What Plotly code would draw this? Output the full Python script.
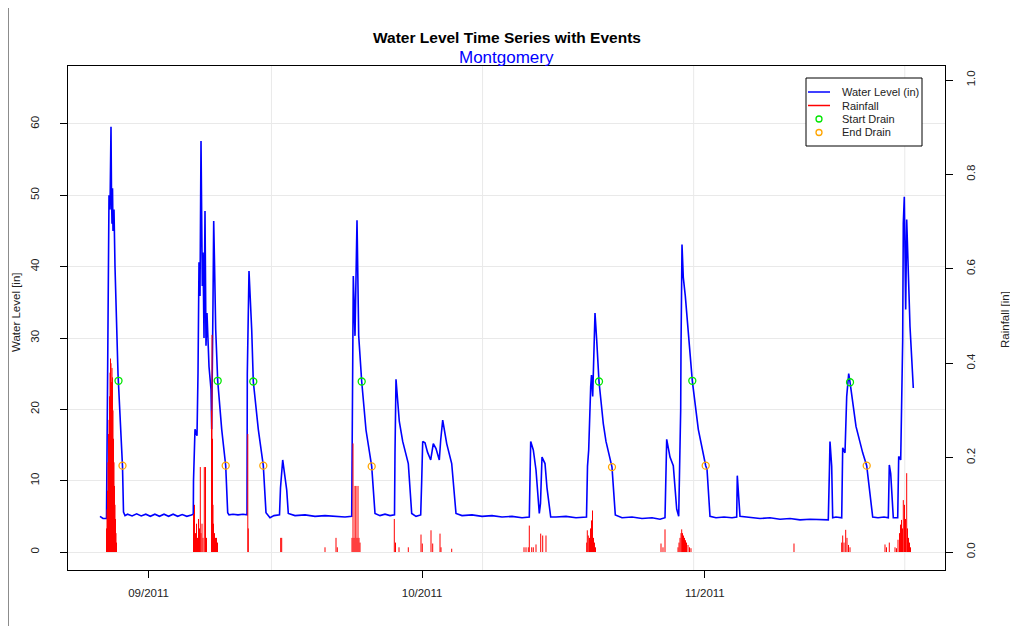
import pandas as pd
import plotly.graph_objects as go

# ---------------- data ----------------
BASE = "2011-09-01"  # day offsets below are days after this date

level_day = [
    -5.318, -4.989, -4.605, -4.550, -4.441, -4.331, -4.221, -4.112, -4.057, -4.002,
    -3.947, -3.893, -3.783, -3.673, -3.344, -3.070, -2.851, -2.741, -2.577, -2.3,
    -1.8, -1.3, -0.8, -0.3, 0.2, 0.7, 1.2, 1.7, 2.2, 2.7,
    3.2, 3.7, 4.2, 4.7, 4.912, 4.934, 5.099, 5.318, 5.428, 5.537,
    5.647, 5.757, 5.899, 5.976, 6.086, 6.195, 6.305, 6.414, 6.634, 6.853,
    6.930, 7.072, 7.149, 7.237, 7.368, 7.588, 8.026, 8.465, 8.684, 8.827,
    9.265, 9.814, 10.362, 10.800, 10.833, 11.020, 11.316, 11.491, 12.039, 12.588,
    12.884, 13.322, 13.761, 14.364, 14.474, 14.715, 15.154, 15.329, 16.064, 17.160,
    18.257, 19.353, 20.450, 21.546, 22.281, 22.347, 22.456, 22.643, 22.752, 22.862,
    22.895, 23.048, 23.377, 23.849, 24.474, 24.835, 25.384, 25.932, 26.480, 26.974,
    27.028, 27.138, 27.500, 27.873, 28.487, 28.860, 29.331, 29.847, 29.956, 30.066,
    30.318, 30.592, 30.943, 31.228, 31.524, 31.886, 32.039, 32.259, 32.697, 33.246,
    33.717, 34.375, 35.471, 36.568, 37.664, 38.761, 39.857, 40.954, 41.754, 41.908,
    42.193, 42.489, 42.851, 42.982, 43.147, 43.476, 43.695, 44.101, 44.682, 45.778,
    46.875, 48.026, 48.136, 48.267, 48.487, 48.575, 48.706, 48.958, 49.145, 49.397,
    49.868, 50.164, 50.822, 51.184, 51.919, 53.015, 54.112, 55.208, 56.085, 56.634,
    56.820, 57.182, 57.544, 57.917, 58.136, 58.279, 58.356, 58.388, 58.498, 58.640,
    58.860, 59.627, 60.285, 61.096, 61.239, 61.568, 62.226, 63.103, 63.980, 64.496,
    64.561, 64.857, 65.954, 67.050, 68.147, 69.243, 70.340, 71.436, 72.533, 73.629,
    74.539, 74.671, 74.725, 74.912, 75.022, 75.384, 76.009, 76.119, 76.371, 76.557,
    76.777, 76.920, 77.577, 78.312, 78.750, 79.408, 79.989, 80.647, 81.119, 81.228,
    81.382, 81.667, 82.150, 82.259, 82.479, 82.698, 82.764, 82.873, 83.027, 83.136,
    83.278, 83.498, 83.860,
]
level_in = [
    5.0, 4.7, 4.7, 13.0, 40.0, 50.0, 48.0, 59.6, 50.0, 46.0,
    51.0, 45.0, 48.0, 40.0, 25.0, 17.0, 12.0, 5.6, 5.1, 5.3,
    5.05, 5.35, 5.05, 5.3, 5.0, 5.3, 5.0, 5.3, 5.0, 5.3,
    5.0, 5.25, 5.0, 5.2, 5.3, 10.0, 17.2, 16.3, 25.0, 40.6,
    35.9, 57.6, 37.3, 42.0, 30.0, 47.8, 28.9, 33.5, 26.0, 22.8,
    17.2, 35.0, 46.4, 40.6, 31.2, 24.0, 17.2, 12.1, 5.5, 5.2,
    5.3, 5.2, 5.3, 5.2, 25.0, 39.4, 31.2, 23.9, 17.2, 12.1,
    5.5, 4.8, 5.1, 5.2, 9.0, 12.9, 8.7, 5.4, 5.1, 5.2,
    5.0, 5.1, 5.0, 4.9, 5.0, 15.0, 38.7, 30.3, 39.9, 46.5,
    43.9, 30.3, 23.9, 17.1, 12.0, 5.4, 5.1, 5.3, 5.1, 5.2,
    14.0, 24.2, 18.3, 15.5, 12.4, 5.4, 5.0, 5.2, 10.0, 15.5,
    15.3, 14.0, 12.9, 15.2, 14.5, 12.9, 15.7, 18.5, 15.2, 12.4,
    5.4, 5.1, 5.2, 5.0, 5.1, 4.9, 5.0, 4.8, 4.9, 15.5,
    14.3, 11.5, 5.4, 6.8, 13.3, 12.4, 9.0, 4.9, 4.9, 5.0,
    4.8, 4.9, 12.0, 14.3, 23.2, 24.8, 21.8, 33.5, 29.7, 23.9,
    18.0, 15.5, 11.9, 5.2, 4.8, 4.9, 4.7, 4.8, 4.6, 4.8,
    15.8, 13.3, 12.1, 6.0, 5.0, 14.9, 20.0, 28.4, 43.1, 38.5,
    35.9, 24.0, 17.2, 12.1, 11.6, 5.0, 4.8, 4.9, 4.8, 4.9,
    10.7, 5.0, 4.8, 4.7, 4.8, 4.6, 4.7, 4.5, 4.6, 4.5,
    4.5, 12.0, 15.5, 12.0, 4.8, 4.9, 4.8, 14.6, 13.9, 21.8,
    25.0, 23.8, 17.6, 13.9, 12.1, 4.9, 4.8, 4.9, 4.8, 12.2,
    11.0, 4.8, 4.8, 13.4, 12.9, 29.8, 46.1, 49.8, 34.0, 46.6,
    40.5, 31.6, 23.0,
]

rain_day = [
    -4.605, -4.550, -4.496, -4.441, -4.386, -4.331, -4.276, -4.221, -4.167, -4.112,
    -4.057, -4.002, -3.947, -3.893, -3.838, -3.783, -3.728, -3.673, -3.618, -3.564,
    -3.509,
    4.934, 5.044, 5.153, 5.263, 5.373, 5.482, 5.592, 5.680, 5.757, 5.866,
    5.976, 6.118, 6.250, 6.360, 6.908, 6.963, 7.018, 7.072, 7.127, 7.237,
    7.346, 7.456, 7.566,
    10.888, 10.943, 14.496, 14.605, 19.353, 20.559, 20.702,
    22.314, 22.423, 22.533, 22.643, 22.752, 22.862, 22.971, 23.081, 23.191,
    26.952, 27.083, 27.467, 28.487, 29.879, 30.022, 30.976, 31.162, 31.963, 32.072,
    33.246,
    41.173, 41.393, 41.645, 41.754, 42.017, 42.193, 42.489, 43.004, 43.224, 43.585,
    48.048, 48.114, 48.224, 48.355, 48.465, 48.575, 48.684, 48.794, 48.903, 49.013,
    56.195, 56.414, 56.634, 58.059, 58.169, 58.279, 58.388, 58.465, 58.553, 58.662,
    58.772, 58.882, 58.991, 59.155, 59.320, 59.484,
    70.778, 76.009, 76.119, 76.261, 76.447, 76.589, 76.754, 76.920,
    80.756, 80.921, 81.228, 81.853, 82.018, 82.182, 82.346, 82.456, 82.566, 82.676,
    82.764, 82.895, 83.005, 83.136, 83.224, 83.334, 83.443, 83.553,
]
rain_in = [
    0.05, 0.09, 0.13, 0.19, 0.25, 0.28, 0.33, 0.38, 0.41, 0.40,
    0.36, 0.39, 0.37, 0.30, 0.24, 0.19, 0.14, 0.10, 0.07, 0.04,
    0.02,
    0.08, 0.10, 0.04, 0.06, 0.03, 0.07, 0.05, 0.18, 0.04, 0.06,
    0.03, 0.18, 0.18, 0.03, 0.30, 0.46, 0.24, 0.10, 0.06, 0.04,
    0.03, 0.03, 0.02,
    0.25, 0.05, 0.03, 0.03, 0.01, 0.03, 0.01,
    0.03, 0.23, 0.03, 0.14, 0.14, 0.03, 0.14, 0.03, 0.02,
    0.07, 0.02, 0.01, 0.01, 0.037, 0.018, 0.046, 0.018, 0.039, 0.01,
    0.007,
    0.01, 0.01, 0.01, 0.056, 0.01, 0.01, 0.016, 0.039, 0.035, 0.035,
    0.02, 0.046, 0.035, 0.03, 0.05, 0.067, 0.088, 0.03, 0.02, 0.01,
    0.018, 0.01, 0.048, 0.01, 0.02, 0.03, 0.04, 0.048, 0.04, 0.035,
    0.03, 0.025, 0.02, 0.015, 0.01, 0.008,
    0.018, 0.02, 0.035, 0.02, 0.047, 0.03, 0.015, 0.01,
    0.016, 0.01, 0.02, 0.01, 0.008, 0.026, 0.04, 0.058, 0.068, 0.05,
    0.11, 0.10, 0.07, 0.167, 0.05, 0.03, 0.02, 0.01,
]

start_day = [-3.289, 7.588, 11.491, 23.377, 49.397, 59.627, 76.920]
start_level = [24.0, 24.0, 23.9, 23.9, 23.9, 24.0, 23.8]
end_day = [-2.851, 8.465, 12.588, 24.474, 50.822, 61.096, 78.750]
end_level = [12.1, 12.1, 12.1, 12.0, 11.9, 12.1, 12.1]

x_tick_days = [0, 30, 61]
x_tick_labels = ["09/2011", "10/2011", "11/2011"]
left_ticks = [0, 10, 20, 30, 40, 50, 60]
right_ticks = [0.0, 0.2, 0.4, 0.6, 0.8, 1.0]
right_tick_labels = ["0.0", "0.2", "0.4", "0.6", "0.8", "1.0"]
vgrid_times = ["2011-09-14 11:33:20", "2011-10-07 15:06:40",
               "2011-10-30 18:40:00", "2011-11-22 22:13:20"]

title_text = "Water Level Time Series with Events"
subtitle_text = "Montgomery"
legend_labels = ["Water Level (in)", "Rainfall", "Start Drain", "End Drain"]

# ---------------- helpers ----------------
base = pd.Timestamp(BASE)


def to_time(days):
    return [base + pd.Timedelta(days=d) for d in days]


# the page body has an 8px margin, so the figure is 8px smaller than the window
W, H = 1010, 618
ML, MR, MT, MB = 60, 73, 58, 56
PW, PH = W - ML - MR, H - MT - MB
# screen coordinates of the plot box
SX0, SY1 = 68, 570


def px(x):
    return (x - SX0) / PW


def py(y):
    return (SY1 - y) / PH


FONT = "Liberation Sans, Arial, Helvetica, sans-serif"
BLUE = "#0000ff"
RED = "#ff0000"
GREEN = "#00e600"
ORANGE = "#ffa500"
GRID = "#e9e9e9"

# rainfall as vertical "h" lines
rx, ry = [], []
for t, r in zip(to_time(rain_day), rain_in):
    rx += [t, t, None]
    ry += [0, r, None]

fig = go.Figure()
fig.add_trace(go.Scatter(x=to_time(level_day), y=level_in, mode="lines",
                         line=dict(color=BLUE, width=1.6), showlegend=False,
                         name=legend_labels[0]))
fig.add_trace(go.Scatter(x=to_time(start_day), y=start_level, mode="markers",
                         marker=dict(symbol="circle-open", size=7, color=GREEN,
                                     line=dict(width=1.3, color=GREEN)),
                         showlegend=False, name=legend_labels[2]))
fig.add_trace(go.Scatter(x=to_time(end_day), y=end_level, mode="markers",
                         marker=dict(symbol="circle-open", size=7, color=ORANGE,
                                     line=dict(width=1.3, color=ORANGE)),
                         showlegend=False, name=legend_labels[3]))
fig.add_trace(go.Scatter(x=rx, y=ry, mode="lines", yaxis="y2",
                         line=dict(color=RED, width=1), showlegend=False,
                         name=legend_labels[1]))

shapes = []
for g in vgrid_times:
    shapes.append(dict(type="line", xref="x", yref="paper", x0=g, x1=g, y0=0, y1=1,
                       line=dict(color=GRID, width=1), layer="below"))
# outer frame line on the left edge of the window
shapes.append(dict(type="line", xref="paper", yref="paper", x0=px(8.5), x1=px(8.5),
                   y0=py(8), y1=py(626), line=dict(color="#8c8c8c", width=1)))
# legend box
shapes.append(dict(type="rect", xref="paper", yref="paper", x0=px(806), x1=px(922),
                   y0=py(146), y1=py(78), line=dict(color="black", width=1),
                   fillcolor="white"))
leg_y = [92, 105.5, 119, 132.5]
shapes.append(dict(type="line", xref="paper", yref="paper", x0=px(808), x1=px(830),
                   y0=py(leg_y[0]), y1=py(leg_y[0]), line=dict(color=BLUE, width=1.5)))
shapes.append(dict(type="line", xref="paper", yref="paper", x0=px(808), x1=px(830),
                   y0=py(leg_y[1]), y1=py(leg_y[1]), line=dict(color=RED, width=1.5)))
for yy, col in ((leg_y[2], GREEN), (leg_y[3], ORANGE)):
    shapes.append(dict(type="circle", xref="paper", yref="paper",
                       x0=px(816), x1=px(822), y0=py(yy + 3), y1=py(yy - 3),
                       line=dict(color=col, width=1.3)))

annotations = [
    dict(text="<b>%s</b>" % title_text, x=0.5, y=py(37.5), xref="paper", yref="paper",
         showarrow=False, xanchor="center", yanchor="middle",
         font=dict(family=FONT, size=15.5, color="black")),
    dict(text=subtitle_text, x=0.5, y=py(57), xref="paper", yref="paper",
         showarrow=False, xanchor="center", yanchor="middle",
         font=dict(family=FONT, size=17, color=BLUE)),
    dict(text="Water Level [in]", x=px(16), y=py(313), xref="paper", yref="paper",
         showarrow=False, textangle=-90, xanchor="center", yanchor="middle",
         font=dict(family=FONT, size=11.5, color="#222")),
    dict(text="Rainfall [in]", x=px(1005), y=py(320), xref="paper", yref="paper",
         showarrow=False, textangle=-90, xanchor="center", yanchor="middle",
         font=dict(family=FONT, size=11.5, color="#222")),
]
for yy, lab in zip(leg_y, legend_labels):
    annotations.append(dict(text=lab, x=px(840), y=py(yy), xref="paper", yref="paper",
                            showarrow=False, xanchor="left", yanchor="middle",
                            font=dict(family=FONT, size=11, color="#222")))

tickfont = dict(family=FONT, size=11.5, color="#222")
fig.update_layout(
    width=W, height=H,
    margin=dict(l=ML, r=MR, t=MT, b=MB, pad=0),
    paper_bgcolor="white", plot_bgcolor="white",
    showlegend=False,
    xaxis=dict(type="date",
               range=[base + pd.Timedelta(days=-8.827), base + pd.Timedelta(days=87.336)],
               tickmode="array", tickvals=to_time(x_tick_days), ticktext=x_tick_labels,
               ticks="outside", ticklen=7, tickcolor="black", tickwidth=1,
               showline=True, linecolor="black", linewidth=1, mirror=True,
               showgrid=False, zeroline=False, tickfont=tickfont,
               ticklabelstandoff=5),
    yaxis=dict(range=[-2.523, 68.13], tickmode="array", tickvals=left_ticks,
               ticktext=[str(v) for v in left_ticks],
               ticks="outside", ticklen=7, tickcolor="black", tickwidth=1,
               tickangle=-90, showline=True, linecolor="black", linewidth=1,
               mirror=True, showgrid=True, gridcolor=GRID, gridwidth=1,
               zeroline=False, tickfont=tickfont, ticklabelstandoff=16),
    yaxis2=dict(range=[-0.0381, 1.0297], overlaying="y", side="right",
                tickmode="array", tickvals=right_ticks, ticktext=right_tick_labels,
                ticks="outside", ticklen=7, tickcolor="black", tickwidth=1,
                tickangle=-90, showline=True, linecolor="black", linewidth=1,
                showgrid=False, zeroline=False, tickfont=tickfont,
                ticklabelstandoff=8),
    shapes=shapes,
    annotations=annotations,
)

fig.write_html("out.html")
